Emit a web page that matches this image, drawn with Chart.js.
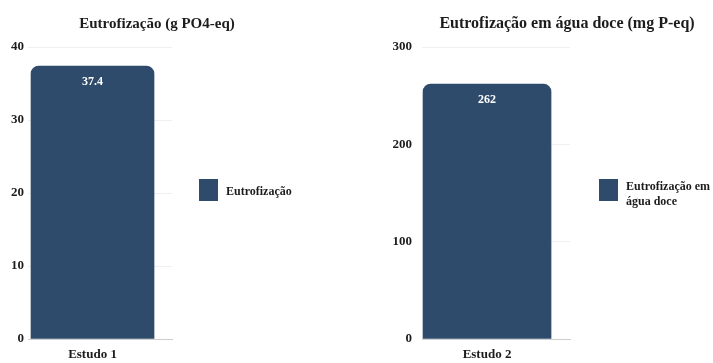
<!DOCTYPE html>
<html>
<head>
<meta charset="utf-8">
<script src="https://cdn.jsdelivr.net/npm/chart.js@4/dist/chart.umd.min.js"></script>
<style>
  html, body { margin: 0; padding: 0; background: #fff; }
  #wrap { position: relative; width: 713px; height: 363px; overflow: hidden;
          font-family: "Liberation Serif", "Times New Roman", serif; font-weight: bold; color: #1c1c1c; }
  .box { position: absolute; top: 0; height: 363px; }
  .title { position: absolute; white-space: nowrap; transform: translateX(-50%); line-height: 20px; }
  .legend { position: absolute; display: flex; align-items: flex-start; font-size: 12px; line-height: 15px; }
  .legend .sw { width: 19px; height: 22px; margin-right: 8px; flex: none; }
</style>
</head>
<body>
<div id="wrap">
  <div class="box" style="left:0;width:356px"><canvas id="c1" width="356" height="363"></canvas></div>
  <div class="box" style="left:356px;width:357px"><canvas id="c2" width="357" height="363"></canvas></div>
  <div class="title" id="t1" style="left:157px;top:13px;font-size:15px"></div>
  <div class="title" id="t2" style="left:567px;top:13px;font-size:16px"></div>
  <div class="legend" id="l1" style="left:199px;top:179px"><div class="sw"></div><div class="tx" style="padding-top:5px"></div></div>
  <div class="legend" id="l2" style="left:599px;top:179px"><div class="sw"></div><div class="tx" style="width:92px;padding-top:0"></div></div>
</div>
<script>
// Chart data
const categories = ['Estudo 1', 'Estudo 2'];
const seriesNames = ['Eutrofização', 'Eutrofização em água doce'];
const values = [37.4, 262];
const titles = ['Eutrofização (g PO4-eq)', 'Eutrofização em água doce (mg P-eq)'];
const yTicks1 = [0, 10, 20, 30, 40];
const yTicks2 = [0, 100, 200, 300];

const BAR_COLOR = '#2f4b6b';
const TEXT_COLOR = '#1c1c1c';
const FONT = '"Liberation Serif", "Times New Roman", serif';

// white value label near the top of each bar
const valueLabels = {
  id: 'valueLabels',
  afterDatasetsDraw(chart) {
    const ctx = chart.ctx;
    ctx.save();
    ctx.fillStyle = '#ffffff';
    ctx.font = 'bold 12px ' + FONT;
    ctx.textAlign = 'center';
    ctx.textBaseline = 'middle';
    chart.data.datasets.forEach((ds, di) => {
      chart.getDatasetMeta(di).data.forEach((el, i) => {
        ctx.fillText(String(ds.data[i].y), el.x, el.y + 16);
      });
    });
    ctx.restore();
  }
};

function makeChart(id, idx, ticks, opt) {
  return new Chart(document.getElementById(id), {
    type: 'bar',
    data: {
      datasets: [{
        label: seriesNames[idx],
        data: [{ x: 0, y: values[idx] }],
        backgroundColor: BAR_COLOR,
        borderRadius: 8,
        borderSkipped: 'start',
        barThickness: opt.barWidth
      }]
    },
    options: {
      responsive: false,
      animation: false,
      devicePixelRatio: 1,
      layout: { padding: { top: 47, right: opt.padRight, bottom: 0, left: 0 } },
      plugins: { legend: { display: false }, tooltip: { enabled: false }, title: { display: false } },
      scales: {
        x: {
          type: 'linear',
          offset: false,
          min: -0.5,
          max: opt.xMax,
          grid: { display: false, drawTicks: false },
          border: { display: true, color: '#cfcfcf', width: 1 },
          afterBuildTicks: s => { s.ticks = [{ value: 0 }]; },
          afterFit: s => { s.height = 24; },
          ticks: {
            callback: () => categories[idx],
            color: TEXT_COLOR,
            font: { family: FONT, size: 13, weight: 'bold' },
            padding: 8,
            maxRotation: 0,
            autoSkip: false
          }
        },
        y: {
          min: 0,
          max: ticks[ticks.length - 1],
          afterBuildTicks: s => { s.ticks = ticks.map(v => ({ value: v })); },
          afterFit: s => { s.width = opt.yWidth; },
          grid: { color: '#efefef', drawTicks: false },
          border: { display: false },
          ticks: {
            color: TEXT_COLOR,
            font: { family: FONT, size: 13, weight: 'bold' },
            padding: opt.yPad
          }
        }
      }
    },
    plugins: [valueLabels]
  });
}

makeChart('c1', 0, yTicks1, { barWidth: 123, padRight: 184, xMax: 0.616, yWidth: 28, yPad: 4 });
makeChart('c2', 1, yTicks2, { barWidth: 128, padRight: 143, xMax: 0.638, yWidth: 66, yPad: 10 });

// titles and legends
document.getElementById('t1').textContent = titles[0];
document.getElementById('t2').textContent = titles[1];
['l1', 'l2'].forEach((id, i) => {
  const el = document.getElementById(id);
  el.querySelector('.sw').style.background = BAR_COLOR;
  el.querySelector('.tx').textContent = seriesNames[i];
});
</script>
</body>
</html>
